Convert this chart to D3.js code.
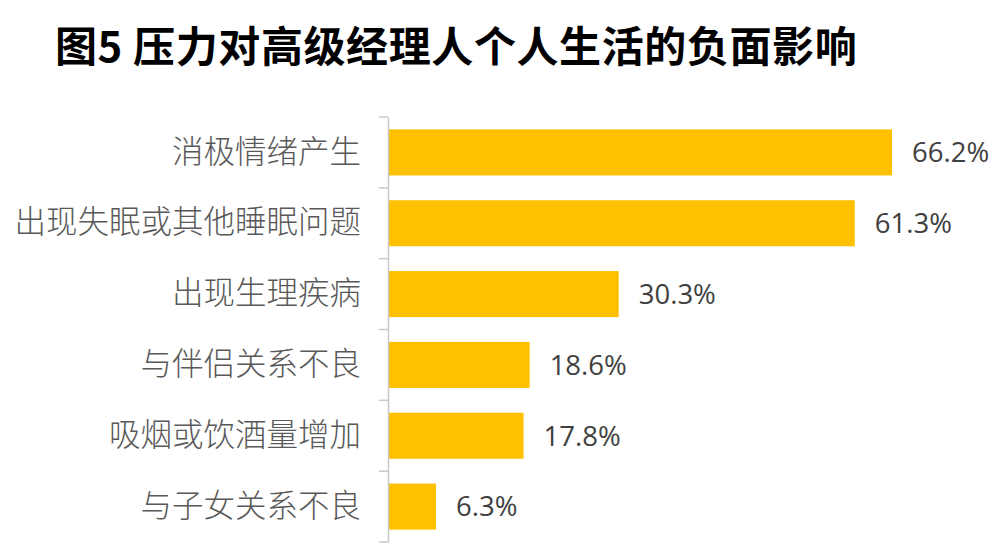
<!DOCTYPE html>
<html>
<head>
<meta charset="utf-8">
<script src="https://cdn.jsdelivr.net/npm/d3@7"></script>
<style>
  body { margin: 0; background: #fff; }
  svg { display: block; }
</style>
</head>
<body>
<div id="chart"></div>
<script>
var categories = ["消极情绪产生", "出现失眠或其他睡眠问题", "出现生理疾病", "与伴侣关系不良", "吸烟或饮酒量增加", "与子女关系不良"];
var values = [66.2, 61.3, 30.3, 18.6, 17.8, 6.3];
var valueLabels = ["66.2%", "61.3%", "30.3%", "18.6%", "17.8%", "6.3%"];
var title = "图5  压力对高级经理人个人生活的负面影响";

var svg = d3.select("#chart")
      .append("svg")
      .attr("width", 1000)
      .attr("height", 550);

svg.append("text")
      .attr("x", 55)
      .attr("y", 62)
      .attr("font-family", "'Noto Sans CJK SC', sans-serif")
      .attr("font-weight", "bold")
      .attr("font-size", 42)
      .attr("letter-spacing", 0.6)
      .attr("fill", "#000")
      .text(title);

var x = d3.scaleLinear()
      .domain([0, 70])
      .range([388, 921]);

var y = d3.scaleBand()
      .domain(categories)
      .range([117, 542])
      .paddingInner(0.35)
      .paddingOuter(0.175);

// bars
svg.append("g")
      .selectAll("rect")
      .data(values)
      .enter()
      .append("rect")
      .attr("x", x(0))
      .attr("y", function(d, i){ return y(categories[i]); })
      .attr("width", function(d){ return x(d) - x(0); })
      .attr("height", y.bandwidth())
      .attr("fill", "#FFC000");

// axis with category labels
var axis = svg.append("g")
      .attr("transform", "translate(" + x(0) + ",0)")
      .call(d3.axisLeft(y).tickSize(0).tickSizeOuter(0).tickPadding(27));

axis.select(".domain")
      .attr("stroke", "#c8c8c8")
      .attr("stroke-width", 1.5);

axis.selectAll("text")
      .attr("font-family", "'Noto Sans CJK SC', sans-serif")
      .attr("font-weight", 300)
      .attr("font-size", 31.5)
      .attr("fill", "#595959");

// tick marks at band boundaries
var bounds = categories.map(function(c){ return y(c) - y.step() * y.paddingInner() / 2; });
bounds.push(y.range()[1]);

svg.append("g")
      .selectAll("line")
      .data(bounds)
      .enter()
      .append("line")
      .attr("x1", x(0) - 9)
      .attr("x2", x(0))
      .attr("y1", function(d){ return d; })
      .attr("y2", function(d){ return d; })
      .attr("stroke", "#c8c8c8")
      .attr("stroke-width", 1.5);

// value labels
svg.append("g")
      .selectAll("text")
      .data(values)
      .enter()
      .append("text")
      .attr("x", function(d){ return x(d) + 20; })
      .attr("y", function(d, i){ return y(categories[i]) + y.bandwidth() / 2; })
      .attr("dy", "0.36em")
      .attr("font-family", "'Open Sans', sans-serif")
      .attr("font-size", 27.5)
      .attr("fill", "#404040")
      .text(function(d, i){ return valueLabels[i]; });
</script>
</body>
</html>
